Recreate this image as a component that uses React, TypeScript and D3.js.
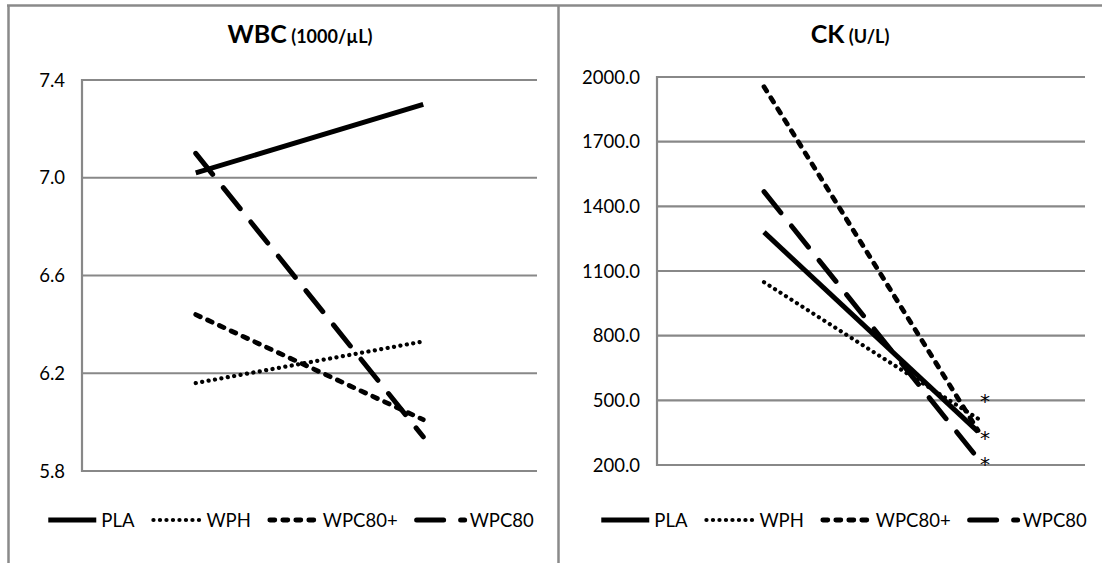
import React, { useEffect, useRef } from "react";
import * as d3 from "d3";

// two time points, no category labels shown on the chart
const categories = ["pre", "post"];
const seriesNames = ["PLA", "WPH", "WPC80+", "WPC80"];

const wbcPLA = [7.02, 7.3];
const wbcWPH = [6.16, 6.33];
const wbcWPC80plus = [6.44, 6.01];
const wbcWPC80 = [7.1, 5.94];
const wbcTicks = [5.8, 6.2, 6.6, 7.0, 7.4];

const ckPLA = [1280, 355];
const ckWPH = [1048, 415];
const ckWPC80plus = [1955, 360];
const ckWPC80 = [1468, 230];
const ckTicks = [200, 500, 800, 1100, 1400, 1700, 2000];
const ckStars = [519, 348, 229];

const FONT = "Lato, 'Open Sans', sans-serif";
const GRID = "#888888";

const lineStyle: Record<string, { dash: string | null; cap: string; width: number }> = {
  PLA: { dash: null, cap: "butt", width: 5 },
  WPH: { dash: "0.1 6.4", cap: "round", width: 4.2 },
  "WPC80+": { dash: "5 8", cap: "round", width: 4.8 },
  WPC80: { dash: "27 17", cap: "round", width: 5 }
};

type Panel = {
  title: string;
  unit: string;
  values: number[][];
  ticks: number[];
  stars: number[];
  box: { x0: number; x1: number; y0: number; y1: number };
  labelX: number;
  titleX: number;
  legendCx: number;
};

const panels: Panel[] = [
  {
    title: "WBC",
    unit: " (1000/µL)",
    values: [wbcPLA, wbcWPH, wbcWPC80plus, wbcWPC80],
    ticks: wbcTicks,
    stars: [],
    box: { x0: 82, x1: 537, y0: 80, y1: 471 },
    labelX: 65,
    titleX: 300,
    legendCx: 290
  },
  {
    title: "CK",
    unit: " (U/L)",
    values: [ckPLA, ckWPH, ckWPC80plus, ckWPC80],
    ticks: ckTicks,
    stars: ckStars,
    box: { x0: 657, x1: 1085, y0: 77, y1: 465 },
    labelX: 640,
    titleX: 850,
    legendCx: 843
  }
];

function applyStyle(sel: any, name: string) {
  const st = lineStyle[name];
  sel
    .attr("fill", "none")
    .attr("stroke", "#000")
    .attr("stroke-width", st.width)
    .attr("stroke-linecap", st.cap)
    .attr("stroke-dasharray", st.dash);
}

export default function App() {
  const svgRef = useRef<SVGSVGElement | null>(null);

  useEffect(() => {
    const svg = d3.select(svgRef.current);
    svg.selectAll("*").remove();

    svg.append("rect").attr("width", 1102).attr("height", 563).attr("fill", "#fff");

    // outer frames
    const frame = svg.append("g").attr("stroke", "#8a8a8a").attr("stroke-width", 2.5);
    frame.append("line").attr("x1", 7).attr("x2", 1102).attr("y1", 5.5).attr("y2", 5.5);
    frame.append("line").attr("x1", 8.5).attr("x2", 8.5).attr("y1", 5).attr("y2", 563);
    frame.append("line").attr("x1", 558.5).attr("x2", 558.5).attr("y1", 5).attr("y2", 563);

    panels.forEach((p) => {
      const { x0, x1, y0, y1 } = p.box;
      const x = d3.scalePoint<string>().domain(categories).range([x0, x1]).padding(0.5);
      const y = d3
        .scaleLinear()
        .domain([p.ticks[0], p.ticks[p.ticks.length - 1]])
        .range([y1, y0]);
      const fmt = d3.format(".1f");

      const g = svg.append("g");

      g.append("g")
        .selectAll("line")
        .data(p.ticks)
        .join("line")
        .attr("x1", x0)
        .attr("x2", x1)
        .attr("y1", (d) => y(d))
        .attr("y2", (d) => y(d))
        .attr("stroke", GRID)
        .attr("stroke-width", 2.2);

      g.append("line")
        .attr("x1", x0)
        .attr("x2", x0)
        .attr("y1", y0 - 1)
        .attr("y2", y1 + 1)
        .attr("stroke", GRID)
        .attr("stroke-width", 2.2);

      g.append("g")
        .selectAll("text")
        .data(p.ticks)
        .join("text")
        .attr("x", p.labelX)
        .attr("y", (d) => y(d))
        .attr("dy", "0.36em")
        .attr("text-anchor", "end")
        .attr("font-family", FONT)
        .attr("font-size", 18.5)
        .attr("fill", "#000")
        .text((d) => fmt(d));

      const title = g
        .append("text")
        .attr("x", p.titleX)
        .attr("y", 43)
        .attr("text-anchor", "middle")
        .attr("font-family", FONT)
        .attr("font-weight", "bold")
        .attr("fill", "#000");
      title.append("tspan").attr("font-size", 25).text(p.title);
      title.append("tspan").attr("font-size", 18).text(p.unit);

      const line = d3
        .line<number>()
        .x((_, i) => x(categories[i]) as number)
        .y((d) => y(d));

      seriesNames.forEach((name, i) => {
        g.append("path").attr("d", line(p.values[i])).call(applyStyle, name);
      });

      // significance marks next to the post values
      const endX = x(categories[1]) as number;
      g.append("g")
        .selectAll("text")
        .data(p.stars)
        .join("text")
        .attr("x", endX + 2)
        .attr("y", (d) => y(d) + 12)
        .attr("font-family", "'DejaVu Sans', sans-serif")
        .attr("font-size", 20)
        .attr("fill", "#000")
        .text("*");

      // legend, centered under the plot
      const legend = g.append("g");
      const sampleW = 52;
      let cx = 0;
      seriesNames.forEach((name, i) => {
        const item = legend.append("g").attr("transform", `translate(${cx},0)`);
        item.append("line").attr("x1", 2).attr("x2", sampleW - 2).attr("y1", 0).attr("y2", 0).call(applyStyle, name);
        const t = item
          .append("text")
          .attr("x", sampleW + 3)
          .attr("y", 0)
          .attr("dy", "0.36em")
          .attr("font-family", FONT)
          .attr("font-size", 18.5)
          .attr("fill", "#000")
          .text(name);
        const tw = (t.node() as SVGTextElement).getComputedTextLength();
        cx += sampleW + 3 + tw + (i < seriesNames.length - 1 ? 17 : 0);
      });
      legend.attr("transform", `translate(${p.legendCx - cx / 2},520)`);
    });
  }, []);

  return (
    <svg
      ref={svgRef}
      width={1102}
      height={563}
      style={{ position: "absolute", left: 0, top: 0, display: "block" }}
    />
  );
}
